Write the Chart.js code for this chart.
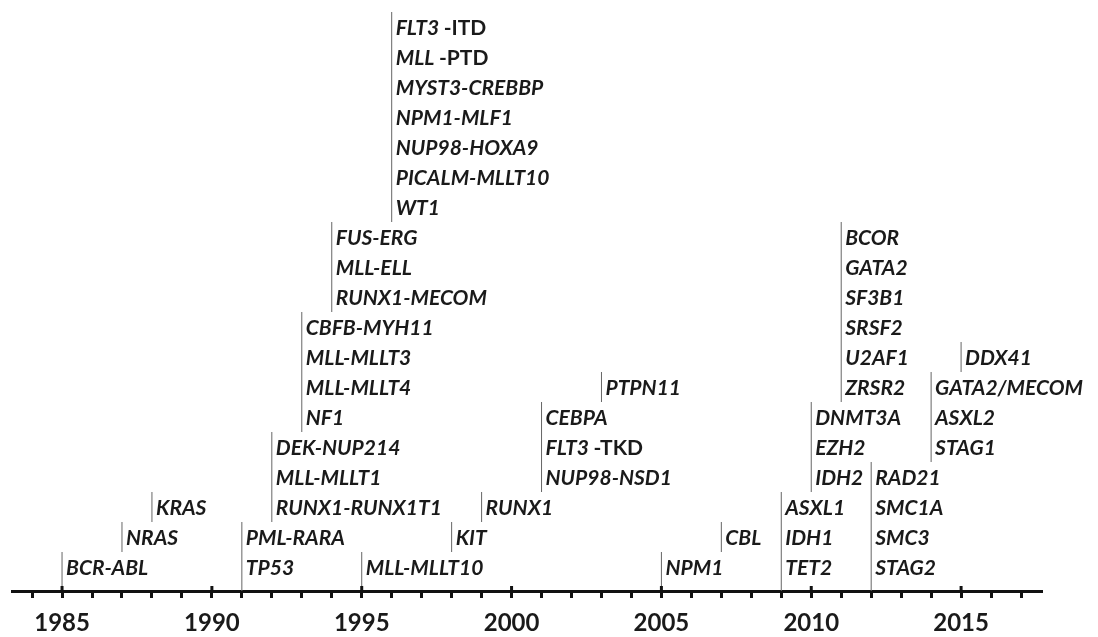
<!DOCTYPE html>
<html>
<head>
<meta charset="utf-8">
<script src="https://cdn.jsdelivr.net/npm/chart.js@4.4.1/dist/chart.umd.min.js"></script>
<style>
    html, body { margin: 0; padding: 0; background: #fff; }
    #wrap { width: 1098px; height: 637px; }
</style>
</head>
<body>
<div id="wrap"><canvas id="timelineChart"></canvas></div>
<script>
// year of discovery, genes listed top to bottom, row of the lowest gene
const years = [1985, 1987, 1988, 1991, 1992, 1993, 1994, 1995, 1996, 1998, 1999,
               2001, 2003, 2005, 2007, 2009, 2010, 2011, 2012, 2014, 2015];
const genes = [
    ['BCR-ABL'],
    ['NRAS'],
    ['KRAS'],
    ['PML-RARA', 'TP53'],
    ['DEK-NUP214', 'MLL-MLLT1', 'RUNX1-RUNX1T1'],
    ['CBFB-MYH11', 'MLL-MLLT3', 'MLL-MLLT4', 'NF1'],
    ['FUS-ERG', 'MLL-ELL', 'RUNX1-MECOM'],
    ['MLL-MLLT10'],
    ['FLT3 -ITD', 'MLL -PTD', 'MYST3-CREBBP', 'NPM1-MLF1', 'NUP98-HOXA9', 'PICALM-MLLT10', 'WT1'],
    ['KIT'],
    ['RUNX1'],
    ['CEBPA', 'FLT3 -TKD', 'NUP98-NSD1'],
    ['PTPN11'],
    ['NPM1'],
    ['CBL'],
    ['ASXL1', 'IDH1', 'TET2'],
    ['DNMT3A', 'EZH2', 'IDH2'],
    ['BCOR', 'GATA2', 'SF3B1', 'SRSF2', 'U2AF1', 'ZRSR2'],
    ['RAD21', 'SMC1A', 'SMC3', 'STAG2'],
    ['GATA2/MECOM', 'ASXL2', 'STAG1'],
    ['DDX41']
];
const baseRows = [0, 1, 2, 0, 2, 5, 9, 0, 12, 1, 2, 3, 6, 0, 1, 0, 3, 6, 0, 4, 7];

const xMin = 1983.33;
const xMax = 2017.7;
const axisRow = -0.3;
const topRow = 19.3;

// one line dataset, segments split by gaps
const stems = [];
for (let i = 0; i < years.length; i++) {
    const b = baseRows[i];
    stems.push({ x: years[i], y: b === 0 ? axisRow : b });
    stems.push({ x: years[i], y: b + genes[i].length });
    stems.push({ x: years[i], y: null });
}

const geneLabels = {
    id: 'geneLabels',
    afterDatasetsDraw(chart) {
        const ctx = chart.ctx;
        const xs = chart.scales.x;
        const ys = chart.scales.y;
        ctx.save();
        ctx.fillStyle = '#1a1a1a';
        ctx.textBaseline = 'middle';
        ctx.textAlign = 'left';
        for (let i = 0; i < years.length; i++) {
            const px = xs.getPixelForValue(years[i]) + 4;
            const list = genes[i];
            for (let k = 0; k < list.length; k++) {
                const row = baseRows[i] + (list.length - 1 - k);
                const py = ys.getPixelForValue(row + 0.5) + 1;
                const parts = list[k].split(' -');
                ctx.font = 'italic bold 21px Lato';
                ctx.fillText(parts[0], px, py);
                if (parts.length > 1) {
                    const w = ctx.measureText(parts[0] + ' ').width;
                    ctx.font = 'bold 21px Lato';
                    ctx.fillText('-' + parts[1], px + w, py);
                }
            }
        }
        // major tick marks poke above the axis line
        ctx.strokeStyle = '#111';
        ctx.lineWidth = 3;
        const yAxis = ys.getPixelForValue(axisRow);
        for (let v = 1985; v <= xMax; v += 5) {
            const px = xs.getPixelForValue(v);
            ctx.beginPath();
            ctx.moveTo(px, yAxis - 5);
            ctx.lineTo(px, yAxis);
            ctx.stroke();
        }
        ctx.restore();
    }
};

function createChart() {
    const ctx = document.getElementById('timelineChart').getContext('2d');
    new Chart(ctx, {
        type: 'scatter',
        data: {
            datasets: [{
                data: stems,
                showLine: true,
                spanGaps: false,
                borderColor: '#666',
                borderWidth: 1,
                pointRadius: 0
            }]
        },
        plugins: [geneLabels],
        options: {
            responsive: false,
            animation: false,
            layout: { padding: { left: 12, right: 56, top: 3, bottom: 0 } },
            plugins: { legend: { display: false }, tooltip: { enabled: false } },
            scales: {
                x: {
                    type: 'linear',
                    min: xMin,
                    max: xMax,
                    afterFit(scale) { scale.height = 46; },
                    border: { display: true, color: '#111', width: 3 },
                    grid: {
                        drawOnChartArea: false,
                        drawTicks: true,
                        tickLength: 7,
                        tickWidth: 3,
                        tickColor: '#111'
                    },
                    ticks: {
                        stepSize: 1,
                        includeBounds: false,
                        autoSkip: false,
                        maxRotation: 0,
                        padding: 11,
                        color: '#1a1a1a',
                        font: { family: 'Lato', size: 24, weight: 'bold' },
                        callback: (v) => (v % 5 === 0 ? String(v) : '')
                    }
                },
                y: {
                    display: false,
                    min: axisRow,
                    max: topRow
                }
            }
        }
    });
}

const canvas = document.getElementById('timelineChart');
canvas.width = 1098;
canvas.height = 637;
window.onload = createChart;
</script>
</body>
</html>
